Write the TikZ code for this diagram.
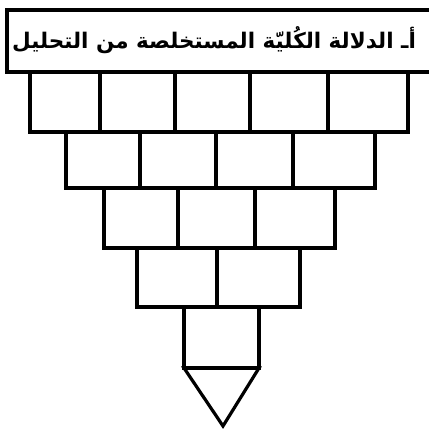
\documentclass[tikz,border=0pt]{standalone}
\usepackage{fontspec}
\newfontfamily\arabicfont[Script=Arabic]{DejaVu Sans}
\TeXXeTstate=1
\begin{document}
\begin{tikzpicture}[x=1pt,y=-1pt,line join=miter,
  brick/.style={draw=black,line width=3.2pt}]
\useasboundingbox (0,0) rectangle (428,430);
% title box
\draw[brick] (7,10) rectangle (432,72);
\node[anchor=center,inner sep=0pt] (title) at (214,40)
  {\arabicfont\bfseries\fontsize{21.5}{26}\selectfont\beginR أـ الدلالة الكُليّة المستخلصة من التحليل\endR};
% row 1
\foreach \a/\b in {30/100,100/175,175/250,250/328,328/408}
  \draw[brick] (\a,72) rectangle (\b,132);
% row 2
\foreach \a/\b in {66/140,140/216,216/293,293/375}
  \draw[brick] (\a,132) rectangle (\b,188);
% row 3
\foreach \a/\b in {104/178,178/255,255/335}
  \draw[brick] (\a,188) rectangle (\b,248);
% row 4
\foreach \a/\b in {137/217,217/300}
  \draw[brick] (\a,248) rectangle (\b,307);
% row 5
\draw[brick] (184,307) rectangle (259,368);
% tip
\draw[brick] (184,368) -- (259,368) -- (223,426) -- cycle;
\end{tikzpicture}
\end{document}
